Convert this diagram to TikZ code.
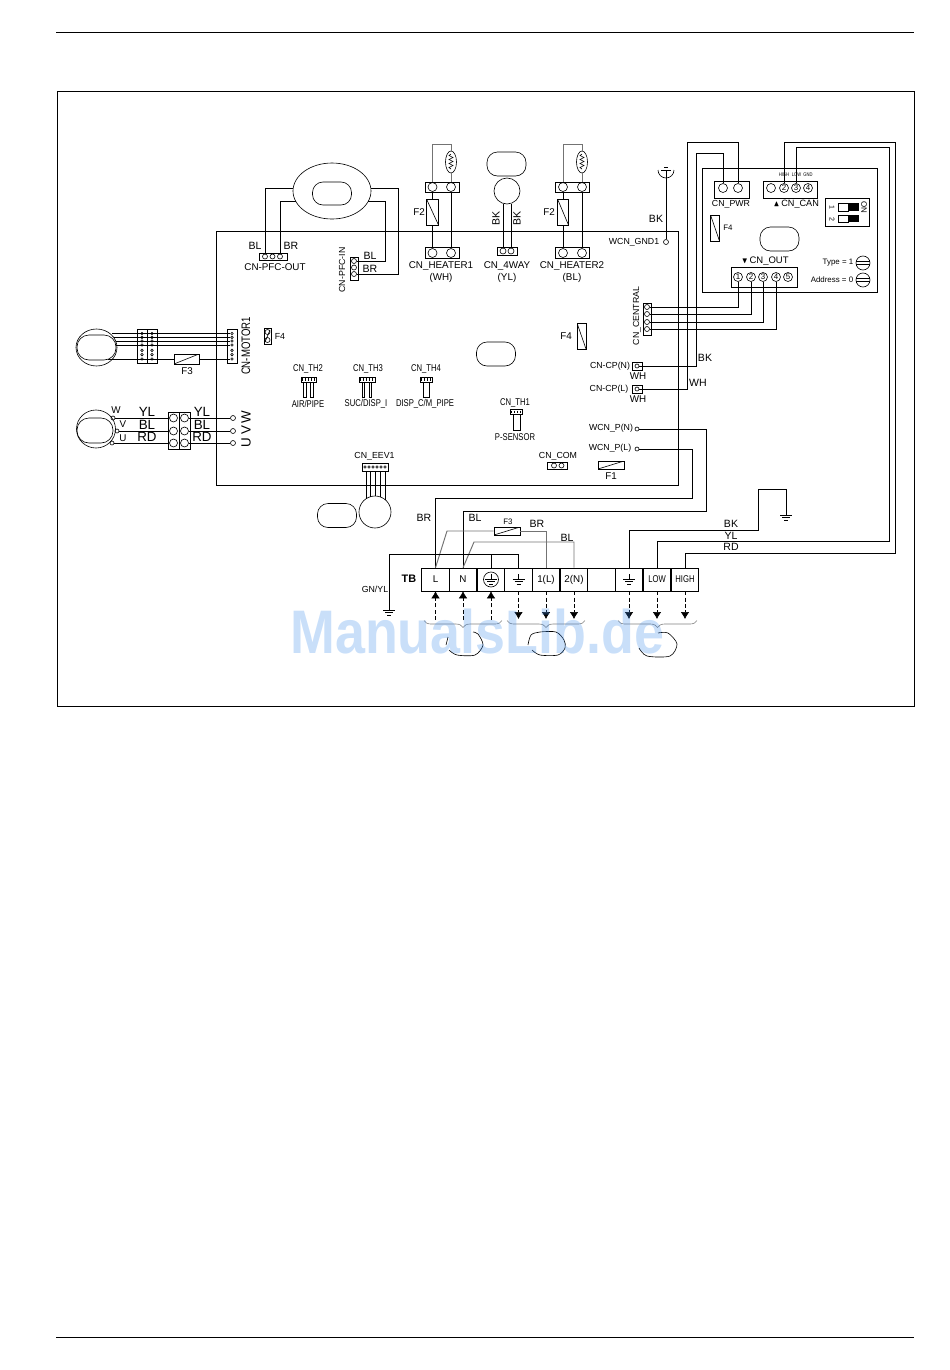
\documentclass[tikz,border=0pt]{standalone}
\usepackage{amssymb}
\usepackage{fontspec}
\setmainfont{Liberation Sans}
\newfontfamily\narrowfont[FakeStretch=0.78]{Liberation Sans}
\newfontfamily\wmfont[FakeStretch=0.875]{Liberation Sans}
\usetikzlibrary{arrows.meta,decorations.pathreplacing,shapes.geometric}
\definecolor{wiregray}{gray}{0.45}
\definecolor{wmblue}{RGB}{60,140,235}
\tikzset{
	lab/.style={inner sep=0pt,font=\fontsize{5.6}{6.5}\selectfont},
	labsm/.style={inner sep=0pt,font=\fontsize{5}{6}\selectfont},
	labtiny/.style={inner sep=0pt,font=\fontsize{4.5}{5}\selectfont},
	labwire/.style={inner sep=0pt,font=\fontsize{6}{7}\selectfont},
	labbig/.style={inner sep=0pt,font=\fontsize{7.6}{8.5}\selectfont},
	labnarrow/.style={inner sep=0pt,font=\narrowfont\fontsize{5.6}{6.5}\selectfont},
	conn/.style 2 args={draw,rectangle,inner sep=0pt,minimum width=#1*0.02cm,minimum height=#2*0.02cm},
	term/.style={draw,circle,inner sep=0pt,minimum size=#1*0.02cm},
	term/.default=9,
	ell/.style 2 args={draw,ellipse,inner sep=0pt,minimum width=#1*0.02cm,minimum height=#2*0.02cm},
	oval/.style={draw,rectangle,rounded corners=0.21cm,inner sep=0pt,minimum width=0.78cm,minimum height=0.48cm},
	fusev/.style 2 args={conn={#1}{#2},path picture={\draw (path picture bounding box.north west) -- (path picture bounding box.south east);}},
	fuseh/.style 2 args={conn={#1}{#2},path picture={\draw (path picture bounding box.south west) -- (path picture bounding box.north east);}},
	wire/.style={line width=0.45pt},
	wiregr/.style={line width=0.55pt,wiregray},
	sig/.style={dashed,dash pattern=on 2.2pt off 1.4pt,-{Latex[length=0.14cm,width=0.17cm]}},
	groundsym/.pic={
		\draw (0,-5) -- (0,0);
		\draw (-6,0) -- (6,0);
		\draw (-4,2.7) -- (4,2.7);
		\draw (-2,5.4) -- (2,5.4);
	},
	heatsym/.pic={
		\draw (0,-8) -- (-2,-6.5) -- (2,-4.5) -- (-2,-2.5) -- (2,-.5) -- (-2,1.5) -- (2,3.5) -- (-2,5.5) -- (0,7);
	},
}
\begin{document}
\begin{tikzpicture}[x=0.02cm,y=-0.02cm,line width=0.35pt]
	\useasboundingbox (0,0) rectangle (950,1370);

	%page rules and frame
	\draw[wire] (56,32) -- (914,32);
	\draw[wire] (56,1337) -- (914,1337);
	\draw[wire] (57,91) rectangle (914,706);
	\draw[wire] (216,231) rectangle (678,485);

	%reactor
	\node[ell={78}{56}] (pfccore) at (332,191) {};
	\node[oval,minimum width=0.78cm,minimum height=0.46cm] (pfchole) at (332,193.5) {};
	\node[conn={28}{7}] (pfcout) at (273,256.5) {};
	\foreach \n/\xx in {a/265,b/272.5,c/280} \node[term=5] (pfcout\n) at (\xx,256.5) {};
	\node[conn={8}{23}] (pfcin) at (354,268.5) {};
	\foreach \n/\yy in {a/261,b/267.5,c/274} \node[term=5] (pfcin\n) at (354,\yy) {};
	\draw[wire] (293,188) -| (pfcouta);
	\draw[wire] (296,201) -| (pfcoutc);
	\draw[wire] (371,188) -| (398,274) -- (pfcinc);
	\draw[wire] (368,201) -| (385,261) -- (pfcina);
	\node[labwire] (lblout) at (255,246) {BL};
	\node[labwire] (brout) at (291,246) {BR};
	\node[lab] (txtout) at (275,267) {CN-PFC-OUT};
	\node[labsm,rotate=90] (txtin) at (342,270) {CN-PFC-IN};
	\node[labwire] (blin) at (370,256) {BL};
	\node[labwire] (brin) at (370,269) {BR};

	%heater 1
	\node[conn={34}{10}] (hatop) at (442,187) {};
	\node[conn={34}{11}] (habot) at (442,252.5) {};
	\node[term=9] (hata) at (432.5,187) {};
	\node[term=9] (hatb) at (451,187) {};
	\node[term=9] (haba) at (432.5,253) {};
	\node[term=9] (habb) at (451,253) {};
	\node[ell={11}{22}] (haoval) at (451,162) {};
	\pic at (451,162) {heatsym};
	\node[fusev={12}{26}] (haf) at (432.5,212) {};
	\draw[wiregr] (hata) |- (451,144) -- (haoval);
	\draw[wiregr] (haoval) -- (hatb);
	\draw[wire] (hata) -- (haf);
	\draw[wire] (haf) -- (haba);
	\draw[wire] (hatb) -- (habb);
	\node[lab] (f2a) at (419,212) {F2};
	\node[lab] (txtha) at (441,266) {CN\_HEATER1};
	\node[lab] (txthb) at (441,278) {(WH)};

	%4way valve
	\node[oval] (wayoval) at (506.5,164) {};
	\node[term=26] (waycoil) at (507,191) {};
	\node[conn={20}{8}] (way) at (507,251) {};
	\node[term=6] (waya) at (503,251) {};
	\node[term=6] (wayb) at (511,251) {};
	\draw[wire] (waya) -- (waya |- waycoil.south);
	\draw[wire] (wayb) -- (wayb |- waycoil.south);
	\node[labwire,rotate=90] (bka) at (496,218) {BK};
	\node[labwire,rotate=90] (bkb) at (517,218) {BK};
	\node[lab] (txtway) at (507,266) {CN\_4WAY};
	\node[lab] (txtwayc) at (507,278) {(YL)};

	%heater 2
	\node[conn={34}{10}] (hbtop) at (572,187) {};
	\node[conn={34}{11}] (hbbot) at (572,252.5) {};
	\node[term=9] (hbta) at (563,187) {};
	\node[term=9] (hbtb) at (582,187) {};
	\node[term=9] (hbba) at (563,253) {};
	\node[term=9] (hbbb) at (582,253) {};
	\node[ell={11}{22}] (hboval) at (582,162) {};
	\pic at (582,162) {heatsym};
	\node[fusev={11}{26}] (hbf) at (563,212) {};
	\draw[wiregr] (hbta) |- (582,144) -- (hboval);
	\draw[wiregr] (hboval) -- (hbtb);
	\draw[wire] (hbta) -- (hbf);
	\draw[wire] (hbf) -- (hbba);
	\draw[wire] (hbtb) -- (hbbb);
	\node[lab] (f2b) at (549,212) {F2};
	\node[lab] (txthc) at (572,266) {CN\_HEATER2};
	\node[lab] (txthd) at (572,278) {(BL)};

	%chassis ground
	\node[term=5] (wcngnd) at (666,242) {};
	\coordinate (antn) at (666,178);
	\draw[wire] (wcngnd) -- (antn);
	\draw (658,170) arc[start angle=180,end angle=0,radius=8];
	\draw (661,170) -- (671,170);
	\draw (664,167) -- (668,167);
	\draw (666,170) -- (antn);
	\node[labsm] (txtgnd) at (634,242) {WCN\_GND1};
	\node[labwire] (bkgnd) at (656,219) {BK};

	%display panel
	\draw[wire] (702,168) rectangle (877,292);
	\node[conn={35}{17}] (pwr) at (731.5,189.5) {};
	\node[term=9] (pwra) at (723,188) {};
	\node[term=9] (pwrb) at (738,188) {};
	\node[labsm] (txtpwr) at (731,204) {CN\_PWR};
	\node[conn={54}{17}] (can) at (790,189.5) {};
	\foreach \n/\xx/\lbl in {a/771/,b/784/2,c/796/3,d/808/4}
		\node[term=9,font=\fontsize{4.5}{5}\selectfont] (can\n) at (\xx,188) {\lbl};
	\foreach \n/\xx/\lbl in {a/784/HIGH,b/796.5/LOW,c/808/GND}
		\node[inner sep=0pt,font=\narrowfont\fontsize{3}{3.5}\selectfont] (txtcan\n) at (\xx,175) {\lbl};
	\node[labsm] (txtcanb) at (796,204) {\fontsize{4.5}{5}\selectfont$\blacktriangle$\,\fontsize{5.2}{6}\selectfont CN\_CAN};
	\node[conn={44}{28}] (dip) at (847,212) {};
	\draw (838,203) rectangle (848,211);
	\fill (848,203) rectangle (859,211);
	\draw (838,215) rectangle (848,222);
	\fill (848,215) rectangle (859,222);
	\node[inner sep=0pt,rotate=-90,font=\fontsize{4}{5}\selectfont] (dipa) at (832,207) {1};
	\node[inner sep=0pt,rotate=-90,font=\fontsize{4}{5}\selectfont] (dipb) at (832,219) {2};
	\node[inner sep=0pt,rotate=-90,font=\fontsize{4.5}{5}\selectfont] (dipon) at (864,207) {ON};
	\node[fusev={9}{26}] (panelf) at (715,228) {};
	\node[labtiny] (txtpanelf) at (728,228) {F4};
	\node[oval] (paneloval) at (779.5,239) {};
	\node[lab] (txtoutc) at (765,261) {\fontsize{4.5}{5}\selectfont$\blacktriangledown$\,\fontsize{5.4}{6}\selectfont CN\_OUT};
	\node[conn={66}{20}] (out) at (764,277) {};
	\foreach \n/\xx/\lbl in {a/738/1,b/751/2,c/763/3,d/776/4,e/788/5}
		\node[term=9,font=\fontsize{4.5}{5}\selectfont] (out\n) at (\xx,277) {\lbl};
	\node[labtiny] (txttype) at (838,263) {Type = 1};
	\node[labtiny] (txtaddr) at (832,280) {Address = 0};
	\node[term=14] (typesw) at (863,263) {};
	\node[term=14] (addrsw) at (863,280) {};
	\draw (856.3,261.5) -- (869.7,261.5) (856.3,264.5) -- (869.7,264.5);
	\draw (856.3,278.5) -- (869.7,278.5) (856.3,281.5) -- (869.7,281.5);

	%cn_central
	\node[conn={8}{32}] (central) at (647,319) {};
	\foreach \n/\yy in {a/307,b/314,c/322,d/329} \node[term=5] (cen\n) at (647,\yy) {};
	\draw[wire] (cena) -| (outa);
	\draw[wire] (cenb) -| (outb);
	\draw[wire] (cenc) -| (outc);
	\draw[wire] (cend) -| (outd);
	\node[labsm,rotate=90] (txtcen) at (637,316) {CN\_CENTRAL};

	%cp and wcn_p
	\node[conn={10}{8}] (cpnbox) at (637,366) {};
	\node[conn={10}{8}] (cplbox) at (637,389) {};
	\node[term=4] (cpn) at (637,366) {};
	\node[term=4] (cpl) at (637,389) {};
	\draw[wire] (pwrb) |- (687,142) |- (cpl);
	\draw[wire] (pwra) |- (696,153) |- (cpn);
	\node[labsm] (txtcpn) at (610,366) {CN-CP(N)};
	\node[labsm] (txtcpl) at (609,389) {CN-CP(L)};
	\node[lab] (whn) at (638,376) {WH};
	\node[lab] (whl) at (638,399) {WH};
	\node[labwire] (bkcp) at (705,358) {BK};
	\node[labwire] (whcp) at (698,383) {WH};
	\node[term=4] (wcnn) at (637,429) {};
	\node[term=4] (wcnl) at (637,449) {};
	\node[labsm] (txtwcnn) at (611,428) {WCN\_P(N)};
	\node[labsm] (txtwcnl) at (610,448) {WCN\_P(L)};
	\node[fusev={9}{26}] (fbd) at (581.5,336) {};
	\node[lab] (f4bd) at (566,336) {F4};
	\node[conn={20}{7}] (com) at (557.5,465.5) {};
	\node[term=5] (coma) at (554,465.5) {};
	\node[term=5] (comb) at (561.5,465.5) {};
	\node[labsm] (txtcom) at (558,456) {CN\_COM};
	\node[fuseh={26}{8}] (fone) at (611,465) {};
	\node[lab] (txtfone) at (611,476) {F1};

	%fan motor
	\node[ell={41}{37}] (fanm) at (96.5,347.5) {};
	\node[oval,minimum width=0.78cm,minimum height=0.5cm,rounded corners=0.24cm] (fanh) at (96.5,347.5) {};
	\node[conn={10}{34}] (fanca) at (142,346) {};
	\node[conn={10}{34}] (fancb) at (152,346) {};
	\node[conn={10}{34}] (motor) at (232,346) {};
	\foreach \i/\yy in {1/333.5,2/337.3,3/341,4/345,5/350.3,6/354.6,7/359}{
		\node[term=2.6] (fana\i) at (142,\yy) {};
		\node[term=2.6] (fanb\i) at (152,\yy) {};
		\node[term=2.6] (mot\i) at (232,\yy) {};
	}
	\foreach \i/\xx/\yy in {1/112/333.5,2/114/337.3,3/116/341,4/116/345}
		\draw[wire] (\xx,\yy) -- (mot\i);
	\node[fuseh={25}{10}] (fthree) at (186.5,359) {};
	\draw[wire] (108,359) -- (fthree);
	\draw[wire] (fthree) -- (mot7);
	\node[lab] (txtfthree) at (187,371) {F3};
	\node[inner sep=0pt,rotate=90,font=\narrowfont\fontsize{7}{8}\selectfont] (txtmot) at (246,346) {CN-MOTOR1};
	\node[conn={7}{16}] (ffour) at (267.5,336) {};
	\node[term=5] (ffoura) at (267.5,332) {};
	\node[term=5] (ffourb) at (267.5,340) {};
	\draw (265,342) -- (270,330);
	\node[labsm] (txtffour) at (280,336) {F4};

	%compressor
	\node[ell={39}{38}] (comp) at (96,429) {};
	\node[oval,minimum width=0.72cm,minimum height=0.5cm,rounded corners=0.24cm] (comph) at (95,430.5) {};
	\node[conn={11}{37}] (compa) at (173.5,430.5) {};
	\node[conn={11}{37}] (compb) at (184.5,430.5) {};
	\foreach \n/\xa/\yy in {a/113/418,b/117/431,c/112/443}{
		\node[term=4] (cw\n) at (\xa,\yy) {};
		\node[term=8] (cl\n) at (173.5,\yy) {};
		\node[term=8] (cr\n) at (184.5,\yy) {};
		\node[term=5] (cu\n) at (233,\yy) {};
		\draw[wire] (cw\n) -- (cl\n);
		\draw[wire] (cr\n) -- (cu\n);
	}
	\foreach \n/\yy/\lbl in {a/412/YL,b/425/BL,c/437/RD}{
		\node[labbig] (cll\n) at (147,\yy) {\lbl};
		\node[labbig] (clr\n) at (202,\yy) {\lbl};
	}
	\node[lab] (txtw) at (116,410) {W};
	\node[lab] (txtv) at (123,424) {V};
	\node[lab] (txtu) at (123,438) {U};
	\node[labbig,rotate=90] (phw) at (246,417) {W};
	\node[labbig,rotate=90] (phv) at (246,430) {V};
	\node[labbig,rotate=90] (phu) at (246,443) {U};

	%thermistors
	\node[labnarrow] (txtthb) at (308,369) {CN\_TH2};
	\node[conn={15}{5}] (thb) at (308.5,379.5) {};
	\draw[wire] (303,382) rectangle (306,397);
	\draw[wire] (310,382) rectangle (313,397);
	\node[labnarrow] (sensb) at (308,404) {AIR/PIPE};
	\node[labnarrow] (txtthc) at (368,369) {CN\_TH3};
	\node[conn={16}{5}] (thc) at (367,379.5) {};
	\draw[wire] (362,382) rectangle (364.5,397);
	\draw[wire] (369,382) rectangle (371.5,397);
	\node[labnarrow] (sensc) at (366,404) {SUC/DISP\_I};
	\node[labnarrow] (txtthd) at (426,369) {CN\_TH4};
	\node[conn={12}{5}] (thd) at (426,379.5) {};
	\draw[wire] (423,382) rectangle (429,397);
	\node[labnarrow] (sensd) at (425,404) {DISP\_C/M\_PIPE};
	\node[labnarrow] (txttha) at (515,403) {CN\_TH1};
	\node[conn={12}{4.5}] (tha) at (516,412) {};
	\draw[wire] (513,414.5) rectangle (520,430);
	\node[labnarrow] (sensa) at (515,437) {P-SENSOR};
	\foreach \xx in {302.5,305.5,...,315}
		\draw (\xx,378) -- (\xx,381);
	\foreach \xx in {360.5,363.5,...,374}
		\draw (\xx,378) -- (\xx,381);
	\foreach \xx in {421.5,424.5,...,431}
		\draw (\xx,378) -- (\xx,381);
	\foreach \xx in {511.5,514.5,...,521}
		\draw (\xx,410.5) -- (\xx,413);

	%expansion valve
	\node[oval] (eevoval) at (337,515.5) {};
	\node[term=32] (eevcoil) at (375,512) {};
	\node[conn={26}{8}] (eev) at (375,467) {};
	\foreach \i/\xx in {1/365,2/369,3/373,4/377,5/381,6/385}
		\node[term=2.6] (eevp\i) at (\xx,467) {};
	\foreach \i/\xx in {1/366,2/370,3/375,4/380,5/385}
		\draw[wire] (\xx,471) -- (\xx,{512-sqrt(256-(\xx-375)*(\xx-375))});
	\node[labsm] (txteev) at (374.5,456) {CN\_EEV1};

	%board ovals
	\node[oval] (bdoval) at (496,354) {};

	%terminal block
	\node[inner sep=0pt,font=\fontsize{6.2}{7}\selectfont\bfseries] (txttb) at (409,579) {TB};
	\foreach \n/\xx/\lbl in {L/435.5/L,N/463/N,E/491/,Ga/518.5/,Lo/546/1(L),Nt/574/2(N),Sp/601.5/,Gb/629/}
		\node[conn={27.6}{23},font=\fontsize{5.6}{6.5}\selectfont] (tb\n) at (\xx,579.5) {\lbl};
	\node[conn={27.6}{23},font=\narrowfont\fontsize{5.6}{6.5}\selectfont] (tbLow) at (657,579.5) {LOW};
	\node[conn={27.6}{23},font=\narrowfont\fontsize{5.6}{6.5}\selectfont] (tbHi) at (685,579.5) {HIGH};
	\node[term=15] (earth) at (491,579.5) {};
	\pic at (491,579) {groundsym};
	\pic at (518.5,579) {groundsym};
	\pic at (629,579) {groundsym};

	%mains wiring
	\draw[wire] (wcnl) -| (692,498) -| (tbL.north);
	\draw[wire] (wcnn) -| (706,511) -| (tbN.north);
	\node[labwire] (txtbra) at (424,518) {BR};
	\node[labwire] (txtbla) at (475,518) {BL};
	\node[fuseh={26}{8}] (ffuse) at (507,531) {};
	\node[labtiny] (txtffuse) at (508,522) {F3};
	\draw[wiregr] (tbL.north) -- (447,531) -- (ffuse);
	\draw[wiregr] (ffuse) -| (tbLo.north);
	\draw[wiregr] (tbN.north) -- (474,542) -| (tbNt.north);
	\node[labwire] (txtbrb) at (537,524) {BR};
	\node[labwire] (txtblb) at (567,538) {BL};
	\coordinate (gndl) at (389,605);
	\draw[wire] (gndl) |- (518.5,554) -- (tbGa.north);
	\draw[wire] (tbE.north) -- (491,554);
	\pic at (389,610) {groundsym};
	\node[labsm] (txtgnyl) at (375,589) {GN/YL};

	%can and ground wiring
	\coordinate (gndr) at (786,513);
	\draw[wire] (canb) |- (895,142) |- (685,553) -- (tbHi.north);
	\draw[wire] (canc) |- (889,147) |- (657,541) -- (tbLow.north);
	\draw[wire] (tbGb.north) |- (758,530) |- (786,489) -- (gndr);
	\pic at (786,515) {groundsym};
	\node[labwire] (txtbkc) at (731,524) {BK};
	\node[labwire] (txtylc) at (731,536) {YL};
	\node[labwire] (txtrdc) at (731,547) {RD};

	%field connections
	\foreach \n/\xx in {L/435.5,N/463,E/491}{
		\coordinate (in\n) at (\xx,620);
		\draw[sig] (in\n) -- (tb\n.south);
	}
	\foreach \n/\xx in {Ga/518.5,Lo/546,Nt/574,Gb/629,Low/657,Hi/685}{
		\coordinate (ex\n) at (\xx,619);
		\draw[sig] (tb\n.south) -- (ex\n);
	}
	\draw[gray,decorate,decoration={brace,mirror,amplitude=4pt}] (424,620.5) -- (502,620.5);
	\draw[gray,decorate,decoration={brace,mirror,amplitude=4pt}] (507,620.5) -- (585,620.5);
	\draw[gray,decorate,decoration={brace,mirror,amplitude=4pt}] (618,620.5) -- (697,620.5);
	\draw (448,637) -- (446,645);
	\draw plot[smooth] coordinates {(449,650) (457,655) (475,655) (483,645) (478,634) (473,632)};
	\draw plot[smooth] coordinates {(528,645) (531,635) (540,632) (556,632) (564,640) (565,648) (558,655) (540,655) (532,650)};
	\draw plot[smooth] coordinates {(658,633) (668,633) (677,644) (670,656) (647,656) (639,648)};

	%watermark
	\node[anchor=base west,inner sep=0pt,text=wmblue,text opacity=0.28,font=\wmfont\fontsize{35}{36}\selectfont\bfseries] (manuals) at (290,653) {ManualsLib.de};
\end{tikzpicture}
\end{document}
